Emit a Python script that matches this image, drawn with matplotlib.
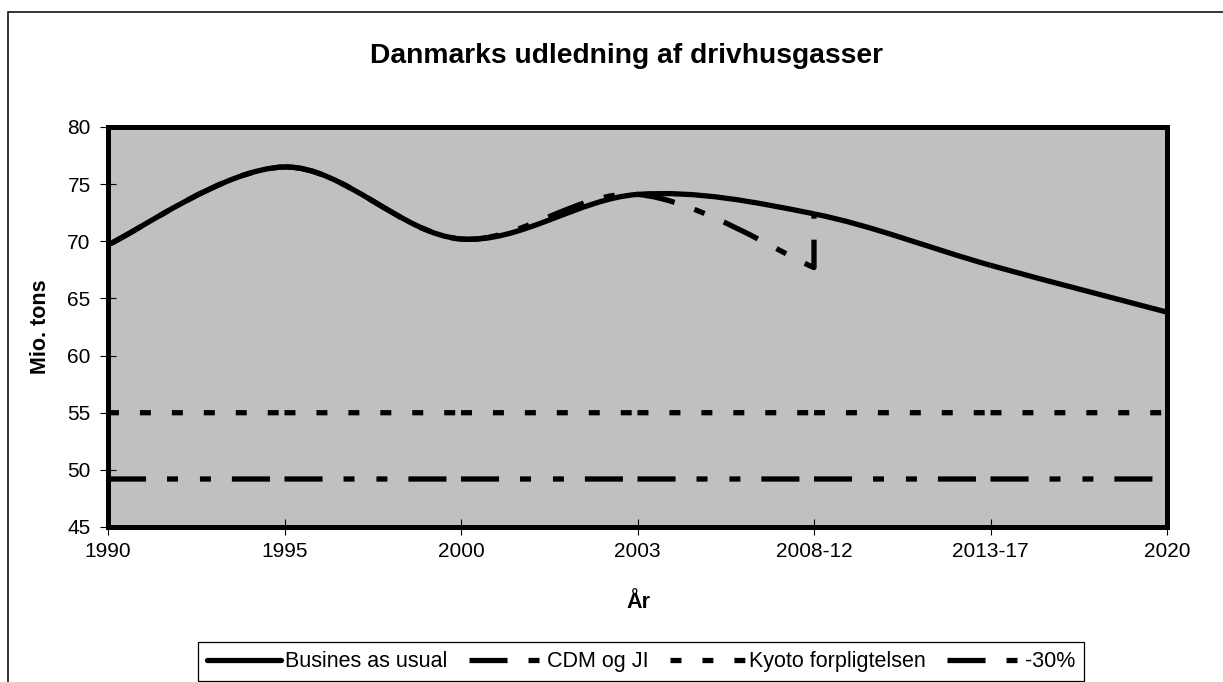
import numpy as np
import matplotlib
matplotlib.use("Agg")
import matplotlib.pyplot as plt
from matplotlib.path import Path
from matplotlib.patches import PathPatch, Rectangle
from matplotlib.lines import Line2D

plt.rcParams['font.family'] = ['Liberation Sans', 'DejaVu Sans']
plt.rcParams['lines.scale_dashes'] = False

# data (Mio. tons)
categories = ['1990', '1995', '2000', '2003', '2008-12', '2013-17', '2020']
business_as_usual = [69.7, 76.5, 70.2, 74.1, 72.4, 67.9, 63.8]
cdm_og_ji = [69.7, 76.5, 70.2, 74.1, 67.7]
kyoto = [55.0, 55.0, 55.0, 55.0, 55.0, 55.0, 55.0]
minus_30 = [49.2, 49.2, 49.2, 49.2, 49.2, 49.2, 49.2]
labels = ['Busines as usual', 'CDM og JI', 'Kyoto forpligtelsen', '-30%']

W, H = 1223, 682
LW = 3.8
solid = None
dash_cdm = (27.4, 15.1, 7.9, 15.1)
dash_kyoto = (7.9, 15.1)
dash_30 = (27.4, 15.1, 7.9, 15.8, 7.9, 15.1)


def smooth_segments(ys):
    # excel style smoothed line: one cubic bezier per category step
    pts = np.column_stack([np.arange(len(ys), dtype=float), np.asarray(ys, float)])
    n = len(pts)
    segs = []
    for i in range(n - 1):
        p0 = pts[max(i - 1, 0)]
        p1 = pts[i]
        p2 = pts[i + 1]
        p3 = pts[min(i + 2, n - 1)]
        segs.append([p1, p1 + (p2 - p0) / 6, p2 - (p3 - p1) / 6, p2])
    return segs


def line_style(dashes):
    return 'solid' if dashes is None else (0, dashes)


def draw_series(ax, ys, dashes, tail=None):
    segs = smooth_segments(ys)
    for k, seg in enumerate(segs):
        verts = list(seg)
        codes = [Path.MOVETO, Path.CURVE4, Path.CURVE4, Path.CURVE4]
        if tail is not None and k == len(segs) - 1:
            verts.append(tail)
            codes.append(Path.LINETO)
        ax.add_patch(PathPatch(Path(verts, codes), fill=False, edgecolor='black',
                               lw=LW, ls=line_style(dashes), capstyle='butt',
                               joinstyle='round', zorder=3))


fig = plt.figure(figsize=(W / 100, H / 100), dpi=100)
fig.add_artist(Rectangle((8 / W, -0.1), 1.2, 1.1 - 12 / H, transform=fig.transFigure,
                         fill=False, edgecolor='black', lw=1.1))

ax = fig.add_axes([108 / W, 1 - 527 / H, (1167 - 108) / W, 400 / H])
ax.set_facecolor('#C0C0C0')

draw_series(ax, minus_30, dash_30)
draw_series(ax, kyoto, dash_kyoto)
draw_series(ax, cdm_og_ji, dash_cdm, tail=(len(cdm_og_ji) - 1, business_as_usual[len(cdm_og_ji) - 1]))
draw_series(ax, business_as_usual, solid)

ax.set_xlim(0, len(categories) - 1)
ax.set_ylim(45, 80)
ax.set_xticks(range(len(categories)))
ax.set_xticklabels(categories)
ax.set_yticks(range(45, 81, 5))
ax.tick_params(direction='inout', length=11, width=0.8, labelsize=15, color='black')
ax.tick_params(axis='y', pad=7)
ax.tick_params(axis='x', pad=5)
for s in ax.spines.values():
    s.set_linewidth(3.6)
    s.set_color('black')
    s.set_zorder(5)

fig.text(627 / W, 1 - 56 / H, 'Danmarks udledning af drivhusgasser', ha='center', va='center',
         fontsize=20.3, fontweight='bold')
fig.text(40 / W, 1 - 327 / H, 'Mio. tons', rotation=90, ha='center', va='center',
         fontsize=15.5, fontweight='bold')
fig.text(638 / W, 1 - 603 / H, 'År', ha='center', va='center', fontsize=15.5, fontweight='bold')

handles = [Line2D([], [], color='black', lw=LW, ls=line_style(d), dash_capstyle='butt',
                  solid_capstyle='round')
           for d in (solid, dash_cdm, dash_kyoto, dash_30)]
leg = fig.legend(handles, labels, loc='upper left', bbox_to_anchor=(198 / W, 1 - 642 / H),
                 ncol=4, fontsize=15.5, frameon=True, fancybox=False, edgecolor='black',
                 framealpha=1, handlelength=3.45, handletextpad=0.18, columnspacing=1.0,
                 borderpad=0.42, borderaxespad=0)
leg.get_frame().set_linewidth(0.9)

fig.savefig('out.png', dpi=100)
